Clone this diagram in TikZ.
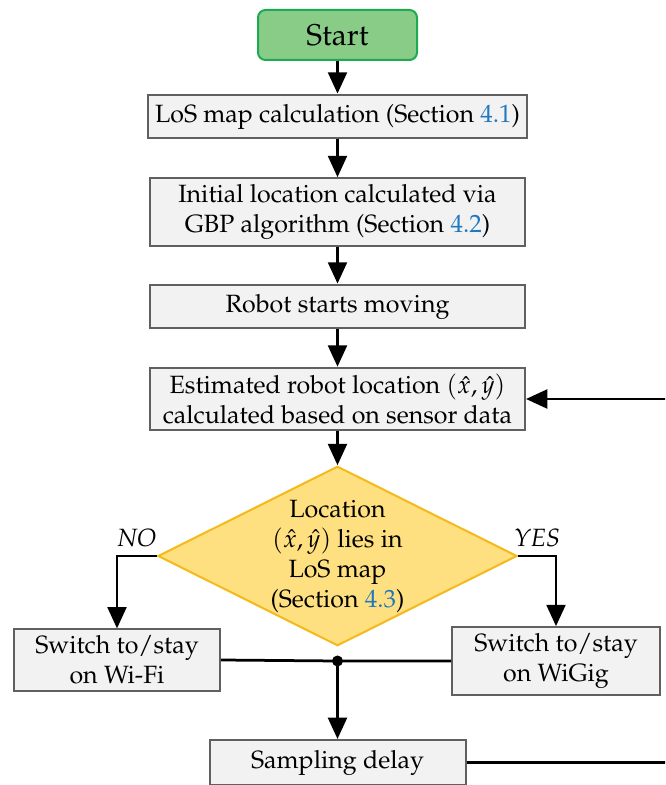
\documentclass[tikz,border=0pt]{standalone}
\usepackage[T1]{fontenc}
\usepackage{mathpazo}
\usepackage{tikz}
\usetikzlibrary{shapes.geometric,
                    arrows.meta}
\definecolor{secblue}{RGB}{33,120,190}
\definecolor{startfill}{RGB}{136,204,136}
\definecolor{startdraw}{RGB}{30,170,80}
\definecolor{decfill}{RGB}{255,224,128}
\definecolor{decdraw}{RGB}{245,185,25}
\newcommand{\secref}[1]{(Section~\textcolor{secblue}{#1})}

\begin{document}
\begin{tikzpicture}[x=1pt,y=1pt,
    seta/.style={line width=1.1pt,-{Triangle[length=8.5pt,width=7.5pt]}},
    linha/.style={line width=1.1pt},
    caixa/.style={draw=gray!75!black,fill=gray!10,line width=0.8pt,align=center,
                  minimum width=150pt,minimum height=17.5pt,inner sep=2.5pt}]
    \useasboundingbox (0,0) rectangle (266,314);
    \clip (0,0) rectangle (266,314);

    % inicio
    \node[draw=startdraw,fill=startfill,line width=0.8pt,rounded corners=3pt,
          minimum width=63.6pt,minimum height=20pt,font=\large] (start) at (135,300) {Start};

    % blocos principais
    \node[caixa,minimum width=151.6pt] (los) at (135,267.4) {LoS map calculation \secref{4.1}};
    \node[caixa] (init) at (135,229.2) {Initial location calculated via\\GBP algorithm \secref{4.2}};
    \node[caixa] (move) at (135,191.4) {Robot starts moving};
    \node[caixa] (est) at (135,154.4) {Estimated robot location $(\hat{x},\hat{y})$\\calculated based on sensor data};

    % decisao
    \node[diamond,draw=decdraw,fill=decfill,line width=0.8pt,aspect=2,inner sep=0pt,
          minimum width=143.6pt,minimum height=71.2pt,align=center] (dec) at (135,91.6)
          {Location\\$(\hat{x},\hat{y})$ lies in\\LoS map\\\secref{4.3}};

    % troca de interface
    \node[caixa,minimum width=82.4pt] (wifi) at (46.8,50) {Switch to/stay\\on Wi-Fi};
    \node[caixa,minimum width=83.2pt] (wigig) at (222.4,49.6) {Switch to/stay\\on WiGig};
    \coordinate (junc) at (135,49.6);
    \node[caixa,minimum width=102.4pt,minimum height=18pt] (delay) at (135,9) {Sampling delay};
    \coordinate (volta) at (285,0);

    \draw[seta] (start) -- (los);
    \draw[seta] (los) -- (init);
    \draw[seta] (init) -- (move);
    \draw[seta] (move) -- (est);
    \draw[seta] (est) -- (dec);
    \draw[seta] (dec.west) -| (wifi.north) node[pos=0.25,above]{\textit{NO}};
    \draw[seta] (dec.east) -| (wigig.north) node[pos=0.25,above]{\textit{YES}};
    \draw[linha] (wifi.east) -- (junc) -- (wigig.west);
    \fill (junc) circle (2.2pt);
    \draw[seta] (junc) -- (delay);
    \draw[seta] (delay.east) -- (delay.east -| volta) |- (est.east);

\end{tikzpicture}
\end{document}
